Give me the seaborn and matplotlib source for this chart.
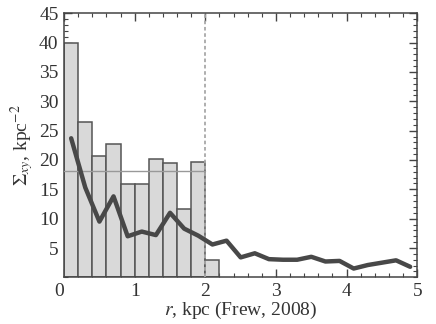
import numpy as np
import pandas as pd
import matplotlib
matplotlib.use("Agg")
import matplotlib.pyplot as plt
from matplotlib.ticker import MultipleLocator
import seaborn as sns

# histogram: surface density per 0.2 kpc ring
bin_edges = [0.0, 0.2, 0.4, 0.6, 0.8, 1.0, 1.2, 1.4, 1.6, 1.8, 2.0, 2.2]
bin_heights = [40.0, 26.5, 20.7, 22.7, 15.9, 15.9, 20.2, 19.5, 11.6, 19.7, 2.9]

# smoothed profile
r_prof = [0.1, 0.3, 0.5, 0.7, 0.9, 1.1, 1.3, 1.5, 1.7, 1.9, 2.1, 2.3, 2.5,
          2.7, 2.9, 3.1, 3.3, 3.5, 3.7, 3.9, 4.1, 4.3, 4.5, 4.7, 4.9]
sigma_prof = [23.7, 15.3, 9.5, 13.8, 7.0, 7.8, 7.2, 11.0, 8.3, 7.1, 5.6, 6.25, 3.4,
              4.1, 3.1, 3.0, 3.0, 3.5, 2.7, 2.8, 1.5, 2.1, 2.5, 2.9, 1.8]

mean_level = 18.2
r_cut = 2.0

sns.set_theme(style="ticks")
plt.rcParams['font.family'] = ['Liberation Serif', 'DejaVu Serif']
plt.rcParams['mathtext.fontset'] = 'stix'

hist_df = pd.DataFrame({
    'r': [(a + b) / 2 for a, b in zip(bin_edges[:-1], bin_edges[1:])],
    'sigma': bin_heights,
})
prof_df = pd.DataFrame({'r': r_prof, 'sigma': sigma_prof})

fig = plt.figure(figsize=(4.36, 3.24), dpi=100)
ax = fig.add_axes([0.147, 0.144, 0.81, 0.815])

sns.histplot(data=hist_df, x='r', weights='sigma', bins=bin_edges, ax=ax,
             color='#d9d9d9', edgecolor='#555555', linewidth=1.1, alpha=1)
ax.plot([0, r_cut], [mean_level, mean_level], color='#999999', lw=1.0, zorder=3)
ax.axvline(r_cut, color='#a8a8a8', lw=1.3, ls=(0, (2, 1.5)), zorder=3)
sns.lineplot(data=prof_df, x='r', y='sigma', ax=ax, color='#484848',
             lw=3.2, zorder=4)

ax.set_xlim(0, 5)
ax.set_ylim(0, 45)
ax.set_xticks([0, 1, 2, 3, 4, 5])
ax.set_xticklabels(['0', '1', '2', '3', '4', '5'])
ax.get_xticklabels()[0].set_horizontalalignment('right')
ax.set_yticks([5, 10, 15, 20, 25, 30, 35, 40, 45])
ax.xaxis.set_minor_locator(MultipleLocator(0.2))
ax.yaxis.set_minor_locator(MultipleLocator(1))
ax.tick_params(which='both', direction='in', top=True, right=True,
               colors='#444444', labelcolor='#333333', labelsize=14, pad=4)
ax.tick_params(which='major', length=6, width=1)
ax.tick_params(which='minor', length=3, width=0.8)
for s in ax.spines.values():
    s.set_color('#444444')
    s.set_linewidth(1.1)

ax.set_xlabel(r'$r$, kpc (Frew, 2008)', fontsize=14, color='#333333', labelpad=0)
ax.set_ylabel(r'$\Sigma_{xy}$, kpc$^{-2}$', fontsize=14, color='#333333', labelpad=2)

fig.savefig('out.png', dpi=100)
